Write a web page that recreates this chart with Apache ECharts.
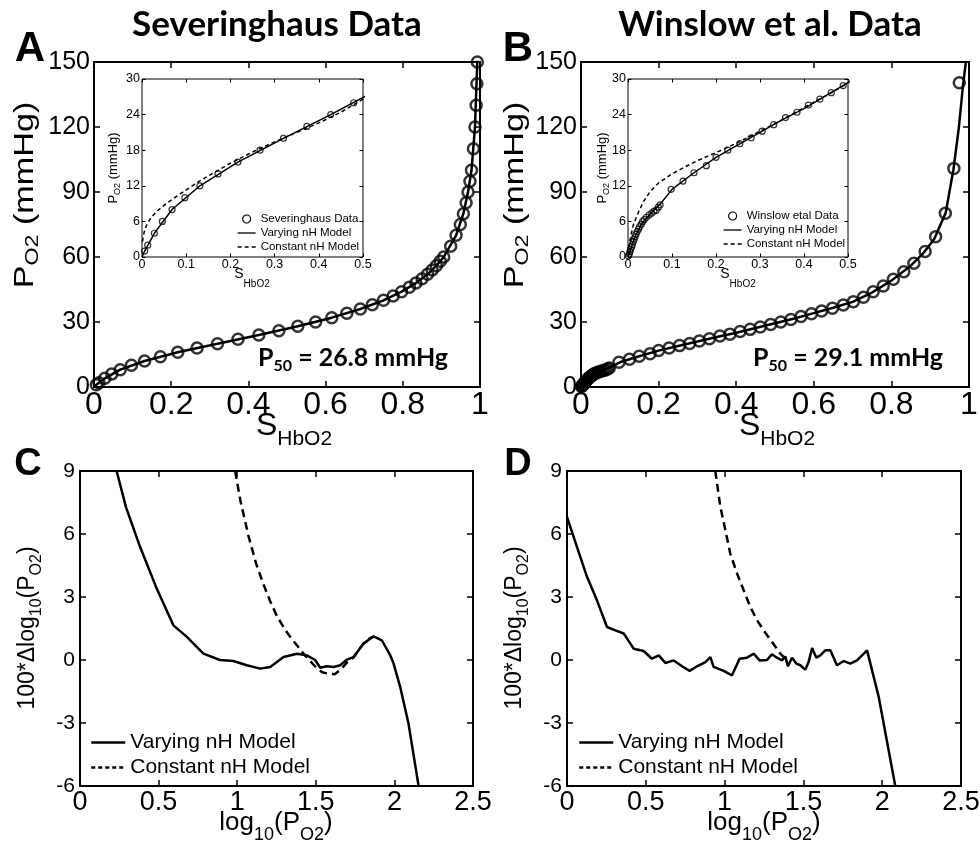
<!DOCTYPE html>
<html>
<head>
<meta charset="utf-8">
<script src="https://cdn.jsdelivr.net/npm/echarts@6/dist/echarts.min.js"></script>
<style>
html, body { margin: 0; padding: 0; background: #fff; }
#main { width: 980px; height: 848px; }
</style>
</head>
<body>
<div id="main"></div>
<script>
// Severinghaus data (panel A)
var sevS = [0.006, 0.013, 0.028, 0.046, 0.068, 0.097, 0.131, 0.172, 0.217, 0.267, 0.32, 0.373, 0.427, 0.479, 0.528, 0.574, 0.616, 0.655, 0.69, 0.721, 0.75, 0.775, 0.797, 0.817, 0.834, 0.85, 0.864, 0.876, 0.887, 0.897, 0.906, 0.924, 0.938, 0.949, 0.957, 0.964, 0.969, 0.974, 0.978, 0.983, 0.987, 0.99, 0.992, 0.993];
var sevP = [1, 2, 4, 6, 8, 10, 12, 14, 16, 18, 20, 22, 24, 26, 28, 30, 32, 34, 36, 38, 40, 42, 44, 46, 48, 50, 52, 54, 56, 58, 60, 65, 70, 75, 80, 85, 90, 95, 100, 110, 120, 130, 140, 150];
var sevModelS = [0, 0.006, 0.028, 0.068, 0.131, 0.217, 0.32, 0.427, 0.528, 0.616, 0.69, 0.75, 0.797, 0.834, 0.864, 0.887, 0.906, 0.938, 0.957, 0.969, 0.978, 0.987, 0.993, 0.996];
var sevModelP = [0, 1, 4, 8, 12, 16, 20, 24, 28, 32, 36, 40, 44, 48, 52, 56, 60, 70, 80, 90, 100, 120, 150, 170];
var sevConstS = [0.001, 0.005, 0.01, 0.02, 0.035, 0.055, 0.08, 0.1, 0.13, 0.16, 0.2, 0.25, 0.3, 0.35, 0.4, 0.45, 0.5];
var sevConstP = [2.6, 4.2, 5.3, 6.6, 7.8, 9.0, 10.3, 11.3, 12.8, 14.1, 15.8, 17.7, 19.4, 21.0, 22.6, 24.4, 26.6];

// Winslow et al. data (panel B)
var winS = [0.001, 0.003, 0.0045, 0.006, 0.008, 0.01, 0.012, 0.014, 0.016, 0.018, 0.021, 0.024, 0.026, 0.03, 0.033, 0.037, 0.042, 0.048, 0.054, 0.059, 0.064, 0.069, 0.073,
  0.098, 0.125, 0.15, 0.178, 0.2, 0.227, 0.254, 0.28, 0.305, 0.331, 0.358, 0.384, 0.41, 0.436, 0.462, 0.489, 0.515, 0.541, 0.567, 0.594, 0.62, 0.648, 0.676, 0.702, 0.728, 0.753, 0.779, 0.805, 0.832, 0.858, 0.887, 0.914, 0.939, 0.961, 0.975];
var winP = [0.2, 0.5, 0.9, 1.3, 1.7, 2.1, 2.6, 3.0, 3.4, 3.8, 4.3, 4.7, 5.1, 5.5, 5.95, 6.3, 6.7, 7.1, 7.4, 7.7, 7.9, 8.4, 8.8,
  11.4, 12.8, 14.2, 15.4, 16.8, 18.0, 19.1, 20.1, 21.2, 22.3, 23.5, 24.4, 25.6, 26.6, 27.7, 28.9, 30.0, 31.2, 32.5, 33.8, 35.1, 36.4, 37.8, 39.4, 41.4, 44.0, 46.6, 49.7, 53.2, 57.1, 62.5, 69.4, 80.2, 100.9, 140.4];
var winModelS = [0, 0.005, 0.015, 0.03, 0.05, 0.073, 0.1, 0.15, 0.2, 0.25, 0.3, 0.35, 0.4, 0.45, 0.5, 0.55, 0.6, 0.65, 0.7, 0.75, 0.8, 0.85, 0.88, 0.91, 0.94, 0.96, 0.974, 0.985, 0.992];
var winModelP = [0, 1.1, 3.2, 5.5, 7.2, 8.9, 11.4, 14.2, 16.8, 18.9, 21.0, 23.1, 25.0, 27.2, 29.4, 31.6, 34.1, 36.6, 39.3, 43.6, 49.1, 56.0, 61.3, 68.2, 80.4, 100.5, 120, 140, 150];
var winConstS = [0.001, 0.006, 0.012, 0.024, 0.035, 0.05, 0.07, 0.1, 0.13, 0.16, 0.2, 0.25, 0.3, 0.35, 0.4, 0.45, 0.5];
var winConstP = [1.5, 3.4, 5.4, 7.6, 9.3, 11.0, 12.5, 14.0, 15.2, 16.3, 17.6, 19.3, 21.2, 23.1, 25.2, 27.2, 29.3];

// residuals (panels C, D)
var cVarX = [0.233, 0.293, 0.382, 0.488, 0.594, 0.68, 0.785, 0.89, 0.976, 1.061, 1.146, 1.21, 1.295, 1.38, 1.443, 1.496, 1.528, 1.57, 1.613, 1.655, 1.698, 1.74, 1.804, 1.868, 1.92, 1.974, 1.995, 2.037, 2.09, 2.154];
var cVarY = [9, 7.27, 5.39, 3.4, 1.65, 1.1, 0.3, 0.0, -0.05, -0.25, -0.41, -0.33, 0.14, 0.3, 0.22, 0, -0.37, -0.3, -0.33, -0.25, 0.02, 0.14, 0.78, 1.13, 0.94, 0.22, -0.17, -1.29, -3.04, -6];
var cConstX = [0.987, 1.02, 1.072, 1.12, 1.167, 1.21, 1.252, 1.3, 1.337, 1.38, 1.422, 1.465, 1.507, 1.545, 1.581, 1.62, 1.66, 1.7, 1.74, 1.78, 1.82, 1.87];
var cConstY = [9, 7.6, 5.9, 4.6, 3.6, 2.8, 2.1, 1.5, 1.1, 0.7, 0.3, -0.05, -0.4, -0.6, -0.65, -0.68, -0.45, -0.1, 0.12, 0.55, 0.95, 1.13];
var dVarX = [0, 0.063, 0.127, 0.19, 0.254, 0.307, 0.36, 0.423, 0.486, 0.539, 0.582, 0.624, 0.677, 0.73, 0.778, 0.825, 0.878, 0.91, 0.93, 0.994, 1.047, 1.095, 1.142, 1.184, 1.222, 1.269, 1.3, 1.332, 1.364, 1.385, 1.402, 1.428, 1.455, 1.48, 1.512, 1.533, 1.555, 1.582, 1.607, 1.639, 1.671, 1.713, 1.756, 1.798, 1.84, 1.904, 1.978, 2.083];
var dVarY = [6.82, 5.39, 3.96, 2.84, 1.57, 1.41, 1.26, 0.54, 0.43, 0.06, 0.22, -0.14, -0.02, -0.3, -0.52, -0.3, -0.1, 0.14, -0.33, -0.52, -0.73, 0.06, 0.11, 0.3, -0.02, 0, 0.27, 0.11, -0.02, 0.17, -0.3, 0.11, -0.17, -0.25, -0.46, -0.1, 0.57, 0.11, 0.22, 0.46, 0.46, -0.25, -0.05, -0.17, -0.02, 0.46, -1.76, -6];
var dConstX = [0.941, 0.973, 1.005, 1.036, 1.079, 1.121, 1.163, 1.206, 1.248, 1.301, 1.354, 1.385];
var dConstY = [9, 7.3, 6.18, 5.07, 4.12, 3.32, 2.53, 1.89, 1.41, 0.86, 0.3, 0.06];

var SANS = '"Liberation Sans", Arial, sans-serif';
var CAL = 'Lato, "Open Sans", sans-serif';

function pairs(xs, ys) {
    var out = [];
    for (var i = 0; i < xs.length; i++) out.push([xs[i], ys[i]]);
    return out;
}

var grids = [];
var xAxes = [];
var yAxes = [];

// one grid with a box of ticks on all four sides
function addPanel(box, xr, yr, s) {
    var g = grids.length;
    grids.push({
        left: box[0], top: box[1], width: box[2], height: box[3],
        show: true, borderColor: '#000', borderWidth: s.border,
        backgroundColor: '#fff', containLabel: false, outerBoundsMode: 'none'
    });
    var tick = { inside: true, length: s.tick, lineStyle: { color: '#000', width: s.tw } };
    var base = { gridIndex: g, type: 'value', axisLine: { show: false, onZero: false }, splitLine: { show: false }, axisTick: tick };
    xAxes.push(Object.assign({}, base, {
        position: 'bottom', min: xr[0], max: xr[1], interval: xr[2],
        axisLabel: { color: '#000', fontFamily: SANS, fontSize: s.xFont, margin: s.xMargin }
    }));
    xAxes.push(Object.assign({}, base, {
        position: 'top', min: xr[0], max: xr[1], interval: xr[2], axisLabel: { show: false }
    }));
    yAxes.push(Object.assign({}, base, {
        position: 'left', min: yr[0], max: yr[1], interval: yr[2],
        axisLabel: { color: '#000', fontFamily: SANS, fontSize: s.yFont, margin: s.yMargin }
    }));
    yAxes.push(Object.assign({}, base, {
        position: 'right', min: yr[0], max: yr[1], interval: yr[2], axisLabel: { show: false }
    }));
    return 2 * g;
}

var mainStyle = { border: 2, tick: 6, tw: 1.5, xFont: 32, yFont: 25, xMargin: 2, yMargin: 4 };
var insetStyle = { border: 1, tick: 3.5, tw: 1, xFont: 12.5, yFont: 12.5, xMargin: 1, yMargin: 2 };
var lowStyle = { border: 2, tick: 6, tw: 1.5, xFont: 27, yFont: 21, xMargin: 3, yMargin: 5 };

var axA = addPanel([94, 62, 386, 325], [0, 1, 0.2], [0, 150, 30], mainStyle);
var axAi = addPanel([142, 79, 221, 178], [0, 0.5, 0.1], [0, 30, 6], insetStyle);
var axB = addPanel([581, 62, 388, 325], [0, 1, 0.2], [0, 150, 30], mainStyle);
var axBi = addPanel([628, 79, 220, 178], [0, 0.5, 0.1], [0, 30, 6], insetStyle);
var axC = addPanel([80, 471, 393, 315], [0, 2.5, 0.5], [-6, 9, 3], lowStyle);
var axD = addPanel([567, 471, 394, 315], [0, 2.5, 0.5], [-6, 9, 3], lowStyle);

function circles(name, ax, xs, ys, size, bw) {
    return {
        name: name, type: 'scatter', xAxisIndex: ax, yAxisIndex: ax, z: 4,
        data: pairs(xs, ys), symbol: 'circle', symbolSize: size,
        itemStyle: { color: 'rgba(0,0,0,0)', borderColor: '#000', borderWidth: bw }
    };
}
function curve(name, ax, xs, ys, w, dash) {
    return {
        name: name, type: 'line', xAxisIndex: ax, yAxisIndex: ax, z: 3,
        data: pairs(xs, ys), symbol: 'none', clip: true,
        itemStyle: { color: '#000' },
        lineStyle: { color: '#000', width: w, type: dash || 'solid' }
    };
}

var series = [
    curve('Varying nH Model', axA, sevModelS, sevModelP, 2.5),
    circles('Severinghaus Data', axA, sevS, sevP, 11, 2.5),
    curve('Varying nH Model', axAi, sevModelS, sevModelP, 1.5),
    curve('Constant nH Model', axAi, sevConstS, sevConstP, 1.5, [4, 3]),
    circles('Severinghaus Data', axAi, sevS, sevP, 6, 1.2),
    curve('Varying nH Model', axB, winModelS, winModelP, 2.5),
    circles('Winslow etal Data', axB, winS, winP, 11, 2.5),
    curve('Varying nH Model', axBi, winModelS, winModelP, 1.5),
    curve('Constant nH Model', axBi, winConstS, winConstP, 1.5, [4, 3]),
    circles('Winslow etal Data', axBi, winS, winP, 6, 1.2),
    curve('Varying nH Model', axC, cVarX, cVarY, 2.5),
    curve('Constant nH Model', axC, cConstX, cConstY, 2.5, [8, 5]),
    curve('Varying nH Model', axD, dVarX, dVarY, 2.5),
    curve('Constant nH Model', axD, dConstX, dConstY, 2.5, [8, 5])
];

// line entries get an invisible centre symbol, only the stroke shows
var lineItems = [
    { name: 'Varying nH Model', itemStyle: { opacity: 0 } },
    { name: 'Constant nH Model', itemStyle: { opacity: 0 } }
];

function insetLegend(dataName, left, top) {
    return {
        left: left, top: top, orient: 'vertical', padding: 0, itemGap: 2,
        itemWidth: 18, itemHeight: 8, selectedMode: false,
        textStyle: { color: '#000', fontFamily: SANS, fontSize: 11.5, lineHeight: 12 },
        lineStyle: { width: 1.3 },
        data: [
            { name: dataName, icon: 'circle', itemStyle: { color: 'rgba(0,0,0,0)', borderColor: '#000', borderWidth: 1.2, opacity: 1 } }
        ].concat(lineItems)
    };
}
function lowLegend(left) {
    return {
        left: left, top: 732, orient: 'vertical', padding: 0, itemGap: 4,
        itemWidth: 34, itemHeight: 10, selectedMode: false,
        textStyle: { color: '#000', fontFamily: SANS, fontSize: 21, lineHeight: 21 },
        lineStyle: { width: 2.5 },
        data: lineItems
    };
}

// text with a subscript, drawn as rich text
function subText(x, y, parts, f, fs, lh, opts) {
    opts = opts || {};
    var s = '';
    parts.forEach(function (p, i) { s += '{' + (i % 2 ? 's' : 'n') + '|' + p + '}'; });
    var family = opts.family || SANS;
    var weight = opts.weight || 'normal';
    return {
        type: 'text', x: x, y: y, rotation: opts.rot || 0, scaleX: opts.sx || 1, z: 10,
        style: {
            text: s, align: 'center', verticalAlign: 'middle', fill: '#000',
            rich: {
                n: { fontSize: f, fontFamily: family, fontWeight: weight, lineHeight: lh, verticalAlign: 'middle', fill: '#000' },
                s: { fontSize: fs, fontFamily: family, fontWeight: weight, lineHeight: fs, verticalAlign: 'bottom', fill: '#000' }
            }
        }
    };
}
function plain(x, y, text, font) {
    return { type: 'text', x: x, y: y, z: 10, style: { text: text, font: font, align: 'center', verticalAlign: 'middle', fill: '#000' } };
}

var R = Math.PI / 2;
var graphic = [
    plain(277, 25, 'Severinghaus Data', 'bold 35px ' + CAL),
    plain(770, 25, 'Winslow et al. Data', 'bold 35px ' + CAL),
    plain(30, 49, 'A', 'bold 42px ' + SANS),
    plain(518, 49, 'B', 'bold 42px ' + SANS),
    plain(28, 465, 'C', 'bold 38px ' + SANS),
    plain(518, 465, 'D', 'bold 38px ' + SANS),
    subText(25, 195, ['P', 'O2', ' (mmHg)'], 28, 19, 35, { rot: R, sx: 1.22 }),
    subText(515, 195, ['P', 'O2', ' (mmHg)'], 28, 19, 35, { rot: R, sx: 1.22 }),
    subText(294, 426, ['S', 'HbO2'], 32, 21, 48),
    subText(777, 426, ['S', 'HbO2'], 32, 21, 48),
    subText(113, 168, ['P', 'O2', ' (mmHg)'], 13, 9, 18, { rot: R }),
    subText(602, 168, ['P', 'O2', ' (mmHg)'], 13, 9, 18, { rot: R }),
    subText(252, 274, ['S', 'HbO2'], 14, 10, 30),
    subText(738, 274, ['S', 'HbO2'], 14, 10, 30),
    subText(353, 358, ['P', '50', ' = 26.8 mmHg'], 25, 16, 32, { family: CAL, weight: 'bold' }),
    subText(848, 358, ['P', '50', ' = 29.1 mmHg'], 25, 16, 32, { family: CAL, weight: 'bold' }),
    subText(276, 823, ['log', '10', '(P', 'O2', ')'], 26, 18, 42),
    subText(764, 823, ['log', '10', '(P', 'O2', ')'], 26, 18, 42),
    subText(28, 628, ['100*\u0394log', '10', '(P', 'O2', ')'], 23, 16, 33, { rot: R }),
    subText(515, 628, ['100*\u0394log', '10', '(P', 'O2', ')'], 23, 16, 33, { rot: R })
];

var chart = echarts.init(document.getElementById('main'), null, { renderer: 'canvas' });
chart.setOption({
    animation: false,
    backgroundColor: '#fff',
    grid: grids,
    xAxis: xAxes,
    yAxis: yAxes,
    legend: [
        insetLegend('Severinghaus Data', 237, 213),
        insetLegend('Winslow etal Data', 723, 210),
        lowLegend(90),
        lowLegend(578)
    ],
    graphic: graphic,
    series: series
});
</script>
</body>
</html>
